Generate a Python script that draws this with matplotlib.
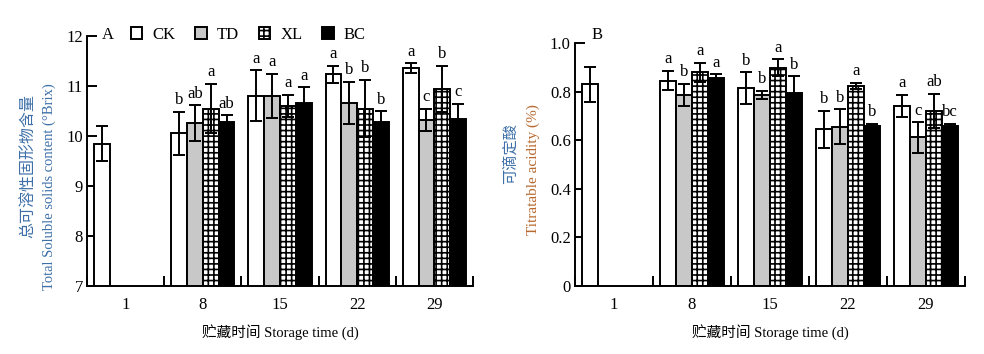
import numpy as np
import matplotlib
matplotlib.use("Agg")
import matplotlib.pyplot as plt
from matplotlib.patches import Patch

plt.rcParams['font.family'] = ['Liberation Serif', 'Noto Sans CJK SC', 'DejaVu Sans']
plt.rcParams['hatch.linewidth'] = 1.2

days = ["1", "8", "15", "22", "29"]
series = ["CK", "TD", "XL", "BC"]
colors = ["white", "#c8c8c8", "white", "black"]
hatches = [None, None, "+++", None]

# Total soluble solids (°Brix)
tss_ck = [9.85, 10.05, 10.81, 11.24, 11.36]
tss_td = [np.nan, 10.26, 10.81, 10.67, 10.33]
tss_xl = [np.nan, 10.55, 10.61, 10.55, 10.95]
tss_bc = [np.nan, 10.29, 10.67, 10.29, 10.35]
tss_ck_err = [0.35, 0.44, 0.51, 0.17, 0.10]
tss_td_err = [np.nan, 0.36, 0.44, 0.42, 0.22]
tss_xl_err = [np.nan, 0.50, 0.22, 0.58, 0.46]
tss_bc_err = [np.nan, 0.13, 0.31, 0.21, 0.30]
tss_ck_let = ["", "b", "a", "a", "a"]
tss_td_let = ["", "ab", "a", "b", "c"]
tss_xl_let = ["", "a", "a", "b", "b"]
tss_bc_let = ["", "ab", "a", "b", "c"]

# Titratable acidity (%)
ta_ck = [0.832, 0.846, 0.814, 0.645, 0.743]
ta_td = [np.nan, 0.787, 0.787, 0.656, 0.612]
ta_xl = [np.nan, 0.880, 0.900, 0.825, 0.723]
ta_bc = [np.nan, 0.856, 0.794, 0.659, 0.659]
ta_ck_err = [0.072, 0.040, 0.066, 0.077, 0.045]
ta_td_err = [np.nan, 0.047, 0.018, 0.072, 0.062]
ta_xl_err = [np.nan, 0.040, 0.035, 0.012, 0.070]
ta_bc_err = [np.nan, 0.016, 0.070, 0.010, 0.010]
ta_ck_let = ["", "a", "b", "b", "a"]
ta_td_let = ["", "b", "b", "b", "c"]
ta_xl_let = ["", "a", "a", "a", "ab"]
ta_bc_let = ["", "a", "b", "b", "bc"]

fig = plt.figure(figsize=(9.84, 3.54), dpi=100)
W, H = 984.0, 354.0
ax1 = fig.add_axes([87 / W, 1 - 286 / H, 386 / W, 250 / H])
ax2 = fig.add_axes([575 / W, 1 - 286 / H, 390 / W, (286 - 43.3) / H])

width = 0.205
offsets = np.array([-1.5, -0.5, 0.5, 1.5]) * width
x = np.arange(1, len(days) + 1)


def draw(ax, vals, errs, lets, ylim, yticks, yticklabels):
    for i in range(4):
        v = np.array(vals[i], dtype=float)
        e = np.array(errs[i], dtype=float)
        m = ~np.isnan(v)
        xs = x[m] + offsets[i]
        ax.bar(xs, v[m], width=width, bottom=0, color=colors[i],
               edgecolor="black", linewidth=1.4, hatch=hatches[i], zorder=2)
        ax.errorbar(xs, v[m], yerr=e[m], fmt="none", ecolor="black",
                    elinewidth=1.4, capsize=4, capthick=1.4, zorder=3)
        for xi, vi, ei, li in zip(xs, v[m], e[m], np.array(lets[i])[m]):
            if li:
                ax.annotate(li, (xi, vi + ei), xytext=(0, 2.5), textcoords="offset points",
                            ha="center", va="bottom", fontsize=12)
    ax.set_xlim(0.5, len(days) + 0.5)
    ax.set_ylim(*ylim)
    ax.set_yticks(yticks)
    ax.set_yticklabels(yticklabels, fontsize=12)
    ax.set_xticks(np.arange(0.5, len(days) + 1, 1.0))
    ax.set_xticklabels([])
    ax.set_xticks(x, minor=True)
    ax.set_xticklabels(days, minor=True, fontsize=12)
    ax.tick_params(axis="x", which="major", direction="in", length=7, width=1.4)
    ax.tick_params(axis="x", which="minor", length=0, pad=8)
    ax.tick_params(axis="y", direction="in", length=7, width=1.4, pad=3)
    for s in ["top", "right"]:
        ax.spines[s].set_visible(False)
    for s in ["left", "bottom"]:
        ax.spines[s].set_linewidth(1.4)
    ax.set_xlabel("贮藏时间 Storage time (d)", fontsize=10.5, labelpad=8)


draw(ax1, [tss_ck, tss_td, tss_xl, tss_bc],
     [tss_ck_err, tss_td_err, tss_xl_err, tss_bc_err],
     [tss_ck_let, tss_td_let, tss_xl_let, tss_bc_let],
     (7, 12), [7, 8, 9, 10, 11, 12], ["7", "8", "9", "10", "11", "12"])
draw(ax2, [ta_ck, ta_td, ta_xl, ta_bc],
     [ta_ck_err, ta_td_err, ta_xl_err, ta_bc_err],
     [ta_ck_let, ta_td_let, ta_xl_let, ta_bc_let],
     (0, 1.0), [0, 0.2, 0.4, 0.6, 0.8, 1.0], ["0", "0.2", "0.4", "0.6", "0.8", "1.0"])

# y labels
blue = "#3d6fa8"
orange = "#b8692e"
fig.text(29 / W, 1 - 166 / H, "总可溶性固形物含量", rotation=90, ha="center", va="center",
         fontsize=11.5, color=blue)
fig.text(49 / W, 1 - 187 / H, "Total Soluble solids content (°Brix)", rotation=90,
         ha="center", va="center", fontsize=10.5, color=blue)
fig.text(511 / W, 1 - 154 / H, "可滴定酸", rotation=90, ha="center", va="center",
         fontsize=11, color=blue)
fig.text(533 / W, 1 - 170 / H, "Titratable acidity (%)", rotation=90,
         ha="center", va="center", fontsize=11, color=orange)

# panel labels
fig.text(108 / W, 1 - 35 / H, "A", ha="center", va="center", fontsize=12)
fig.text(597 / W, 1 - 35 / H, "B", ha="center", va="center", fontsize=12)

# legend
leg_handles = [Patch(facecolor=colors[i], edgecolor="black", linewidth=1.4, hatch=hatches[i])
               for i in range(4)]
fig.legend(leg_handles, series, loc="center left", bbox_to_anchor=(131 / W, 1 - 35 / H),
           ncol=4, frameon=False, fontsize=12, handlelength=0.68, handleheight=0.68,
           handletextpad=0.6, columnspacing=1.2, borderpad=0, borderaxespad=0)

fig.savefig("out.png", dpi=100)
